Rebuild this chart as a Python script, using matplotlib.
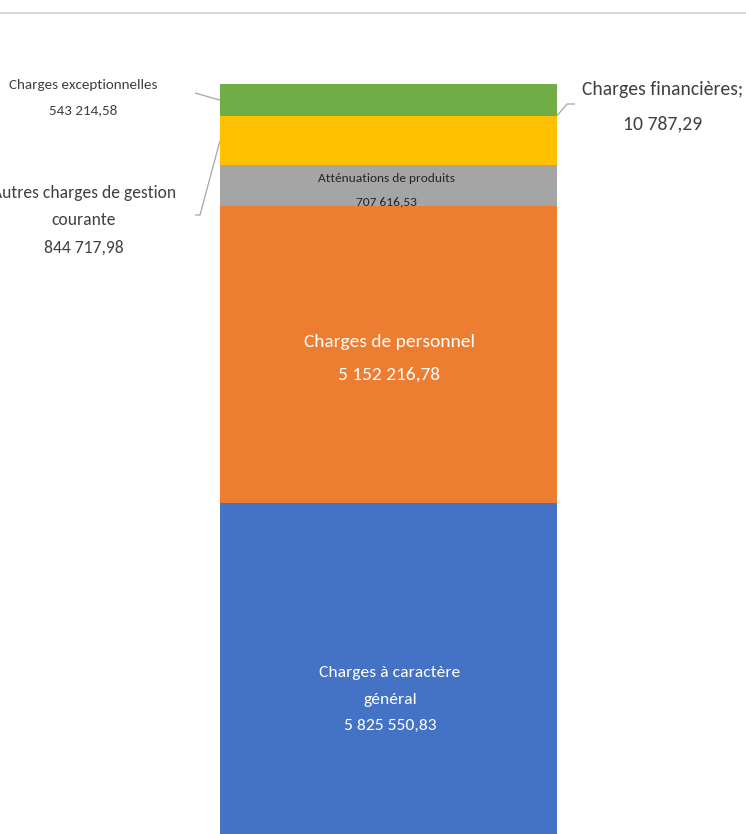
import matplotlib
matplotlib.use("Agg")
import matplotlib.pyplot as plt
from matplotlib import font_manager as fm
import numpy as np

# ---- data ----
categories = ["Charges à caractère général", "Charges de personnel", "Atténuations de produits",
              "Autres charges de gestion courante", "Charges financières", "Charges exceptionnelles"]
values = [5825550.83, 5152216.78, 707616.53, 844717.98, 10787.29, 543214.58]
value_labels = ["5 825 550,83", "5 152 216,78", "707 616,53", "844 717,98", "10 787,29", "543 214,58"]
colors = ["#4472C4", "#ED7D31", "#A5A5A5", "#FFC000", "#5B9BD5", "#70AD47"]

W, H = 746, 834
fig = plt.figure(figsize=(W / 100, H / 100), dpi=100)
ax = fig.add_axes([0, 0, 1, 1])
ax.set_xlim(-220 / 337, (W - 220) / 337)
ax.set_ylim(85000, 14549000)
ax.axis("off")

# ---- choose a narrow, Calibri-like font if one exists ----
names = {f.name for f in fm.fontManager.ttflist}
family = None
for cand in ["Carlito", "Liberation Sans Narrow", "DejaVu Sans Condensed", "Roboto Condensed",
             "Open Sans Condensed", "Noto Sans Condensed", "Lato"]:
    if cand in names:
        family = cand
        break
FONT = [family or "DejaVu Sans", "DejaVu Sans"]
BOOST = 1.07 if family == "Lato" else 1.0

DARK = "#404040"
renderer = fig.canvas.get_renderer()

def fitted_size(sample, target_w, base=12):
    t = fig.text(0, 0, sample, fontsize=base, family=FONT)
    w = t.get_window_extent(renderer).width
    t.remove()
    return base * target_w / w * BOOST

def lines_at(xc, baselines, lines, size, color):
    for yb, s in zip(baselines, lines):
        fig.text(xc / W, 1 - yb / H, s, ha="center", va="baseline", fontsize=size,
                 family=FONT, color=color)

bottoms = np.concatenate([[0], np.cumsum(values)[:-1]])
ax.bar([0] * len(values), values, width=1, bottom=bottoms, align="edge", color=colors,
       edgecolor="none")
mids = bottoms + np.array(values) / 2

# inside labels
s = fitted_size("Charges à caractère", 139)
lines_at(390, [677, 704, 730], ["Charges à caractère", "général", value_labels[0]], s, "white")
s = fitted_size("Charges de personnel", 170)
lines_at(389, [347, 380], [categories[1], value_labels[1]], s, "white")
s = fitted_size("Atténuations de produits", 136)
lines_at(386, [182, 205], [categories[2], value_labels[2]], s, "#262626")

# outside labels
s = fitted_size(categories[5], 149)
lines_at(83, [89, 114], [categories[5], value_labels[5]], s, DARK)
s = fitted_size("utres charges de gestion", 173)
lines_at(84, [198, 225, 253], ["Autres charges de gestion", "courante", value_labels[3]], s, DARK)
s = fitted_size(categories[4] + ";", 160)
lines_at(663, [95, 129], [categories[4] + ";", value_labels[4]], s, DARK)

# leader lines
def px(xp, yp):
    inv = ax.transData.inverted()
    return inv.transform(fig.transFigure.transform((xp / W, 1 - yp / H)))

gray = "#A6A6A6"
def leader(pts_px, end_data):
    pts = [px(*p) for p in pts_px] + [end_data]
    xs, ys = zip(*pts)
    ax.plot(xs, ys, color=gray, lw=0.9, solid_capstyle="butt")

leader([(195, 93)], (0, mids[5]))
leader([(195, 215), (200, 215)], (0, mids[3]))
leader([(575, 104), (567, 104)], (1, bottoms[4] + values[4]))

# top gray rule
fig.add_artist(plt.Line2D([0, 1], [1 - 12.5 / H] * 2, transform=fig.transFigure,
                          color="#D9D9D9", lw=1.5))

fig.savefig("out.png", dpi=100)
